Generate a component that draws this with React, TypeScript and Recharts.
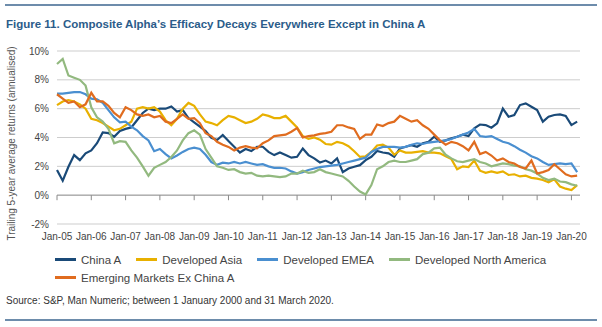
import { LineChart, Line, XAxis, YAxis, CartesianGrid, ReferenceLine } from "recharts";

// bi-monthly observations, Jan-05 .. Mar-20 (fractional years)
const dates = Array.from({ length: 92 }, (_, i) => 2005 + i / 6);
const yearTicks = [2005, 2006, 2007, 2008, 2009, 2010, 2011, 2012, 2013, 2014, 2015, 2016, 2017, 2018, 2019, 2020];
const yTicks = [-2, 0, 2, 4, 6, 8, 10];

const chinaA = [
  1.74, 1.0, 1.97, 2.78, 2.43, 2.9, 3.1, 3.6, 4.35, 4.3, 4.05, 4.45, 4.6, 4.7, 5.2, 5.7, 6.0, 5.9, 6.0, 6.0, 6.15, 5.8, 5.9, 5.35,
  5.05, 4.75, 4.44, 3.98, 3.82, 4.17, 3.75, 3.36, 2.96, 3.2, 3.06, 3.36, 3.36, 3.0, 2.78, 2.96, 2.78, 2.6, 2.66, 3.24, 2.78, 2.55, 2.27,
  2.4, 2.2, 2.55, 1.6, 1.85, 1.97, 2.08, 2.43, 2.66, 3.06, 2.96, 2.9, 2.66, 3.24, 3.36, 3.47, 3.36, 3.6, 3.7, 4.05, 3.7, 3.8, 3.94, 4.05,
  4.2, 4.1, 4.63, 4.9, 4.86, 4.68, 4.98, 6.0, 5.44, 5.56, 6.25, 6.37, 6.13, 5.9, 5.1, 5.44, 5.56, 5.6, 5.5, 4.86, 5.1,
];
const developedAsia = [
  6.25, 6.5, 6.6, 6.5, 6.3, 6.0, 5.3, 5.2, 5.0, 4.75, 4.5, 4.6, 4.85, 5.1, 6.0, 6.1, 6.0, 6.1, 5.8, 5.2, 4.85, 5.3, 6.0, 6.4,
  6.2, 5.6, 5.1, 5.0, 4.85, 5.2, 5.5, 5.4, 5.2, 5.0, 5.1, 5.3, 5.6, 5.5, 5.35, 5.35, 5.5, 5.1, 4.7, 4.1, 3.9, 4.0, 3.85,
  3.55, 3.5, 3.7, 3.6, 3.4, 3.05, 2.65, 2.7, 3.0, 3.45, 3.5, 3.3, 2.8, 3.1, 2.95, 2.95, 3.0, 3.05, 2.95, 2.95, 2.9, 2.7, 2.5, 1.8,
  2.0, 1.95, 2.4, 1.7, 1.55, 1.65, 1.55, 1.65, 1.4, 1.45, 1.3, 1.35, 1.2, 1.15, 1.05, 0.9, 1.1, 0.6, 0.45, 0.35, 0.7,
];
const developedEmea = [
  7.05, 7.05, 7.1, 7.15, 7.15, 7.0, 6.7, 6.65, 6.4, 5.9, 5.4, 5.05, 5.1, 4.75, 4.5, 4.1, 3.8, 3.05, 3.2, 2.85, 2.55, 2.75, 3.0, 3.2,
  3.3, 3.2, 2.8, 2.3, 2.1, 2.25, 2.2, 2.3, 2.2, 2.3, 2.2, 2.1, 2.15, 2.0, 1.9, 1.9, 1.85, 1.65, 1.5, 1.6, 1.75, 1.85, 1.95,
  2.0, 2.05, 2.1, 2.2, 2.3, 2.4, 2.5, 2.6, 3.0, 3.2, 3.35, 3.35, 3.35, 3.3, 3.35, 3.5, 3.6, 3.55, 3.65, 3.7, 3.75, 3.8, 3.9, 4.05,
  4.2, 4.35, 4.6, 4.1, 4.05, 4.1, 3.9, 3.7, 3.6, 3.4, 3.15, 2.95, 2.7, 2.55, 2.3, 2.1, 2.15, 2.2, 2.15, 2.2, 1.6,
];
const developedNorthAmerica = [
  9.1, 9.45, 8.3, 8.15, 8.0, 7.6, 6.1, 5.4, 5.1, 4.6, 3.6, 3.75, 3.7, 3.1, 2.6, 2.0, 1.35, 1.9, 2.1, 2.3, 2.65, 3.1, 3.8, 4.3,
  4.5, 4.2, 3.2, 2.6, 2.0, 1.9, 1.75, 1.8, 1.6, 1.5, 1.55, 1.35, 1.3, 1.35, 1.3, 1.25, 1.3, 1.5, 1.5, 1.7, 1.55, 1.6, 1.8,
  1.6, 1.5, 1.4, 1.3, 1.0, 0.6, 0.25, 0.05, 0.7, 1.8, 2.0, 2.3, 2.4, 2.3, 2.3, 2.4, 2.5, 2.85, 2.95, 3.25, 3.3, 2.8, 2.55, 2.35,
  2.3, 2.4, 2.5, 2.3, 2.2, 2.0, 2.1, 2.2, 2.15, 2.05, 2.0, 1.8, 1.7, 1.5, 1.2, 1.05, 1.15, 0.95, 0.9, 0.75, 0.65,
];
const emergingExChinaA = [
  7.0, 6.7, 6.4, 6.5, 6.1, 6.3, 7.1, 6.5, 6.5, 6.2, 5.7, 5.4, 6.1, 5.9, 5.6, 5.5, 5.6, 5.4, 5.5, 5.1, 5.0, 5.3, 5.6, 5.3,
  5.35, 5.0, 4.3, 4.1, 3.7, 3.5, 3.35, 3.1, 3.3, 3.4, 3.3, 3.25, 3.6, 3.8, 4.1, 4.15, 4.2, 4.4, 4.65, 4.0, 4.1, 4.15, 4.25,
  4.3, 4.4, 4.85, 4.85, 4.7, 4.6, 3.9, 4.2, 4.2, 4.9, 4.8, 5.0, 5.1, 5.5, 5.3, 5.1, 5.2, 4.85, 4.6, 4.2, 3.8, 3.5, 3.7, 3.6,
  3.4, 3.1, 3.7, 2.85, 3.0, 2.75, 2.4, 2.55, 2.3, 2.2, 1.95, 1.85, 2.4, 1.5, 1.6, 1.75, 2.15, 1.8, 1.45, 1.3, 1.35,
];

const series = [
  { key: "chinaA", name: "China A", color: "#1a4a78", values: chinaA },
  { key: "developedAsia", name: "Developed Asia", color: "#e8b000", values: developedAsia },
  { key: "developedEmea", name: "Developed EMEA", color: "#4a8fd0", values: developedEmea },
  { key: "developedNorthAmerica", name: "Developed North America", color: "#92b97f", values: developedNorthAmerica },
  { key: "emergingExChinaA", name: "Emerging Markets Ex China A", color: "#e06c1f", values: emergingExChinaA },
];

const data = dates.map((t, i) => {
  const row: Record<string, number> = { t };
  series.forEach((s) => (row[s.key] = s.values[i]));
  return row;
});

const font = '"Liberation Sans", Arial, sans-serif';

function AxisTitle({ viewBox }: any) {
  const x = 12;
  const y = viewBox.y + viewBox.height / 2 + 6;
  return (
    <text x={x} y={y} transform={`rotate(-90 ${x} ${y})`} textAnchor="middle" dominantBaseline="middle" fontSize={10} fill="#555">
      Trailing 5-year average returns (annualised)
    </text>
  );
}

export default function App() {
  return (
    <div style={{ position: "absolute", left: 0, top: 0, width: 602, height: 327, background: "#fff", fontFamily: font }}>
      <div style={{ position: "absolute", left: 5, top: 4, width: 592, height: 2, background: "#6d8cab" }} />
      <div style={{ position: "absolute", left: 6, top: 18, fontSize: 11.5, fontWeight: "bold", color: "#2b5c8a" }}>
        Figure 11. Composite Alpha’s Efficacy Decays Everywhere Except in China A
      </div>

      <div style={{ position: "absolute", left: 0, top: 0 }}>
        <LineChart width={602} height={250} data={data} margin={{ top: 51, right: 22, left: 0, bottom: 0 }}>
          <CartesianGrid vertical={false} stroke="#cdcdcd" />
          <XAxis
            dataKey="t"
            type="number"
            domain={[2005, 2020.25]}
            ticks={yearTicks}
            tickFormatter={(v: number) => `Jan-${String(Math.round(v) % 100).padStart(2, "0")}`}
            axisLine={false}
            tickLine={false}
            height={26}
            tickMargin={3}
            interval={0}
            tick={{ fontSize: 10, fill: "#444" }}
          />
          <YAxis
            type="number"
            domain={[-2, 10]}
            ticks={yTicks}
            tickFormatter={(v: number) => `${v}%`}
            axisLine={false}
            tickLine={false}
            width={57}
            tick={{ fontSize: 10, fill: "#444" }}
            label={{ content: AxisTitle }}
          />
          <ReferenceLine y={0} stroke="#9a9a9a" />
          {yearTicks.map((yr) => (
            <ReferenceLine
              key={yr}
              segment={[
                { x: yr, y: 0 },
                { x: yr, y: -0.35 },
              ]}
              stroke="#8a8a8a"
            />
          ))}
          {series.map((s) => (
            <Line
              key={s.key}
              type="linear"
              dataKey={s.key}
              name={s.name}
              stroke={s.color}
              strokeWidth={2.2}
              dot={false}
              isAnimationActive={false}
            />
          ))}
        </LineChart>
      </div>

      <div
        style={{
          position: "absolute",
          left: 55,
          top: 252,
          width: 520,
          display: "flex",
          flexWrap: "wrap",
          rowGap: 3,
          fontSize: 11.5,
          color: "#444",
        }}
      >
        {series.map((s) => (
          <div key={s.key} style={{ display: "flex", alignItems: "center", marginRight: 15, height: 15 }}>
            <span style={{ display: "inline-block", width: 21, height: 3, background: s.color, marginRight: 5 }} />
            <span>{s.name}</span>
          </div>
        ))}
      </div>

      <div style={{ position: "absolute", left: 6, top: 295, fontSize: 10, color: "#333" }}>
        Source: S&amp;P, Man Numeric; between 1 January 2000 and 31 March 2020.
      </div>
      <div style={{ position: "absolute", left: 5, top: 319, width: 592, height: 2, background: "#6d8cab" }} />
    </div>
  );
}
